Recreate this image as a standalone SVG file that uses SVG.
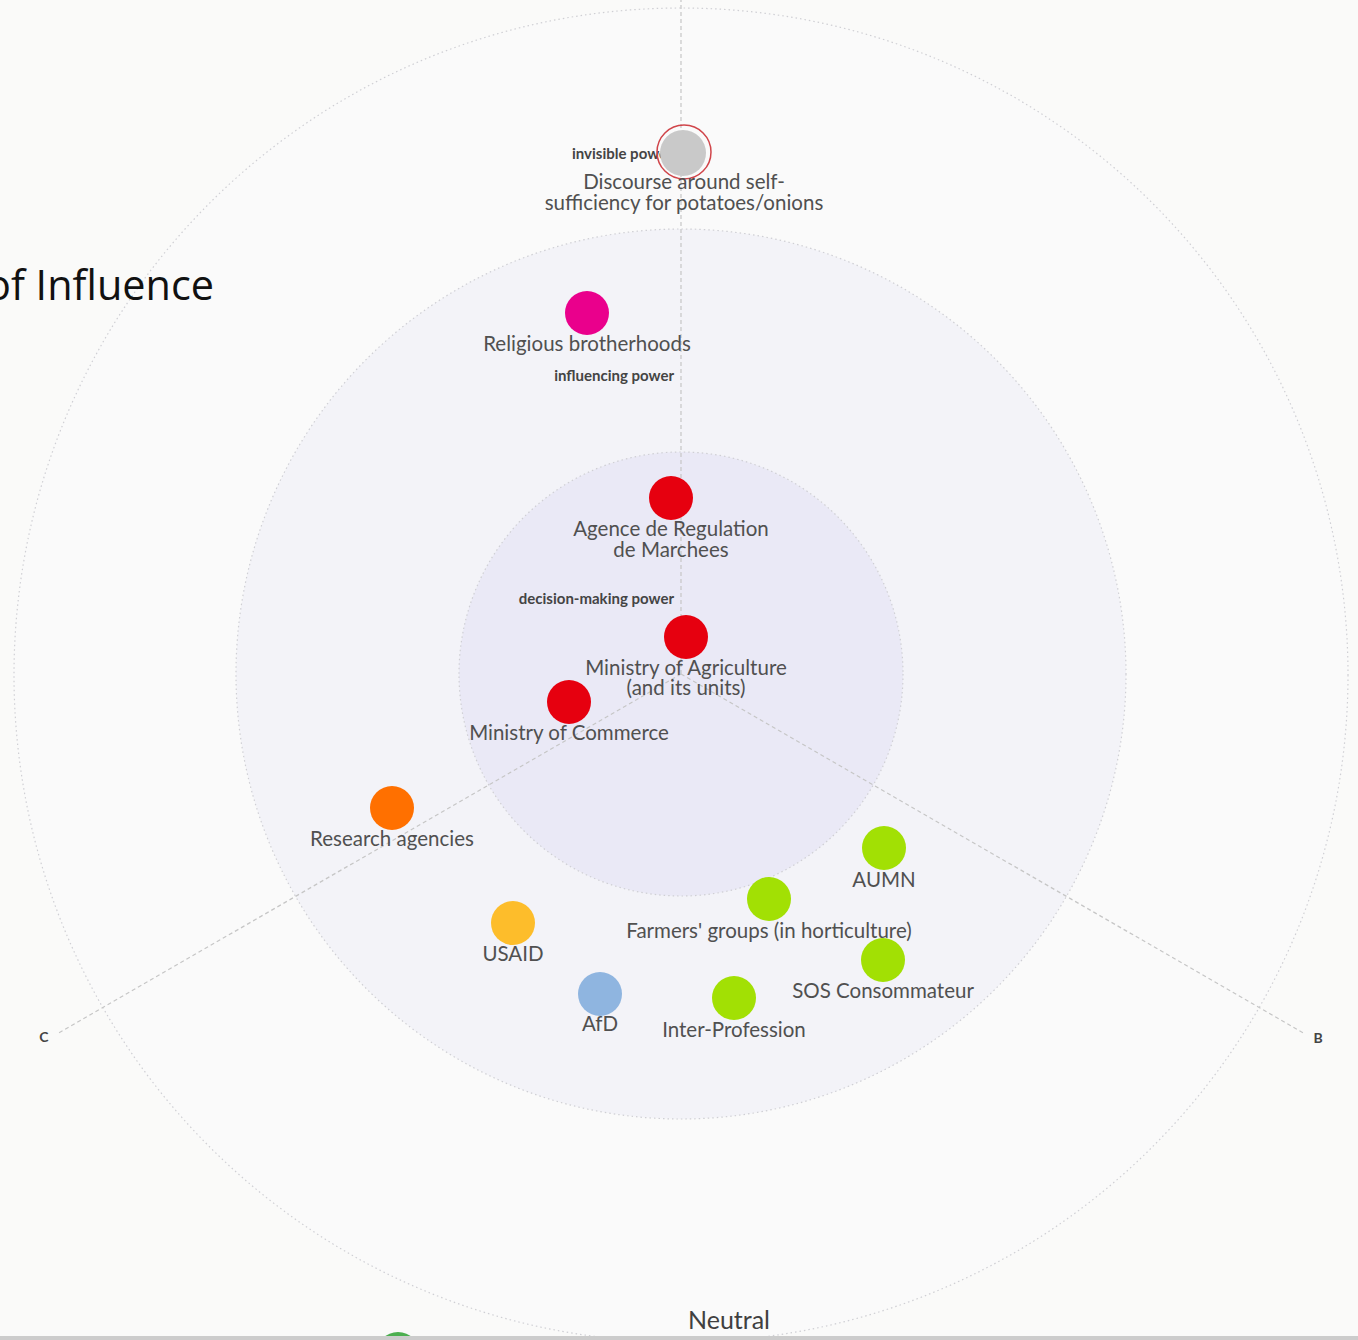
<svg xmlns="http://www.w3.org/2000/svg" width="1358" height="1340" viewBox="0 0 1358 1340">
  <style>
    .ring { stroke: #cfcfd4; stroke-width: 1.2; stroke-dasharray: 1.5 3; }
    .axis { stroke: #c6c6c6; stroke-width: 1.2; stroke-dasharray: 4 3; fill: none; }
    .lbl { font-family: "Lato", "Liberation Sans", sans-serif; font-size: 20.5px; fill: #505050; text-anchor: middle; }
    .zone { font-family: "Lato", "Liberation Sans", sans-serif; font-size: 15px; font-weight: bold; fill: #444; }
    .axlbl { font-family: "Lato", "Liberation Sans", sans-serif; font-size: 14px; font-weight: bold; fill: #444; text-anchor: middle; }
    .red { fill: #e6000f; }
    .lime { fill: #a2e004; }
  </style>

  <rect width="1358" height="1340" fill="#fafaf9"/>

  <!-- concentric spheres -->
  <g id="spheres">
    <circle cx="681" cy="675" r="667" fill="#fafafa" class="ring"/>
    <circle cx="681" cy="674" r="445" fill="#f3f3f8" class="ring"/>
    <circle cx="681" cy="674" r="222" fill="#eae9f6" class="ring"/>
  </g>

  <!-- axes -->
  <g id="connectors">
    <line class="axis" x1="681" y1="674" x2="681" y2="0"/>
    <line class="axis" x1="681" y1="674" x2="57" y2="1034"/>
    <line class="axis" x1="681" y1="674" x2="1305" y2="1034"/>
  </g>

  <g id="axis-labels">
    <text class="axlbl" x="44" y="1042">C</text>
    <text class="axlbl" x="1318" y="1043">B</text>
    <text x="729" y="1329" font-family="Lato, 'Liberation Sans', sans-serif" font-size="25" fill="#404040" text-anchor="middle">Neutral</text>
  </g>

  <text id="title" x="-14" y="300" font-family="'Open Sans', 'Liberation Sans', sans-serif" font-size="42" fill="#111" textLength="228" lengthAdjust="spacingAndGlyphs">of Influence</text>

  <g id="zone-labels">
    <text class="zone" x="572" y="159">invisible power</text>
    <text class="zone" x="674" y="381" text-anchor="end">influencing power</text>
    <text class="zone" x="674" y="604" text-anchor="end">decision-making power</text>
  </g>

  <g id="node-discourse">
    <circle cx="684" cy="152" r="27" fill="none" stroke="#d0454a" stroke-width="1.5"/>
    <circle cx="683" cy="153" r="23" fill="#c9c9c9"/>
    <text class="lbl" x="684" y="189">Discourse around self-</text>
    <text class="lbl" x="684" y="210">sufficiency for potatoes/onions</text>
  </g>

  <g id="node-religious">
    <circle cx="587" cy="313" r="22" fill="#ea008c"/>
    <text class="lbl" x="587" y="351">Religious brotherhoods</text>
  </g>

  <g id="node-agence">
    <circle cx="671" cy="498" r="22" class="red"/>
    <text class="lbl" x="671" y="536">Agence de Regulation</text>
    <text class="lbl" x="671" y="557">de Marchees</text>
  </g>

  <g id="node-agriculture">
    <circle cx="686" cy="637" r="22" class="red"/>
    <text class="lbl" x="686" y="675">Ministry of Agriculture</text>
    <text class="lbl" x="686" y="695">(and its units)</text>
  </g>

  <g id="node-commerce">
    <circle cx="569" cy="702" r="22" class="red"/>
    <text class="lbl" x="569" y="740">Ministry of Commerce</text>
  </g>

  <g id="node-research">
    <circle cx="392" cy="808" r="22" fill="#ff7000"/>
    <text class="lbl" x="392" y="846">Research agencies</text>
  </g>

  <g id="node-usaid">
    <circle cx="513" cy="923" r="22" fill="#fdbd2b"/>
    <text class="lbl" x="513" y="961">USAID</text>
  </g>

  <g id="node-afd">
    <circle cx="600" cy="994" r="22" fill="#8fb5e0"/>
    <text class="lbl" x="600" y="1031">AfD</text>
  </g>

  <g id="node-interprofession">
    <circle cx="734" cy="998" r="22" class="lime"/>
    <text class="lbl" x="734" y="1037">Inter-Profession</text>
  </g>

  <g id="node-farmers">
    <circle cx="769" cy="899" r="22" class="lime"/>
    <text class="lbl" x="769" y="938">Farmers' groups (in horticulture)</text>
  </g>

  <g id="node-aumn">
    <circle cx="884" cy="848" r="22" class="lime"/>
    <text class="lbl" x="884" y="887">AUMN</text>
  </g>

  <g id="node-sos">
    <circle cx="883" cy="960" r="22" class="lime"/>
    <text class="lbl" x="883" y="998">SOS Consommateur</text>
  </g>

  <g id="node-partial">
    <circle cx="398" cy="1354" r="22" fill="#4caf50"/>
  </g>

  <rect x="0" y="1336" width="1358" height="4" fill="#cccccc"/>
</svg>
